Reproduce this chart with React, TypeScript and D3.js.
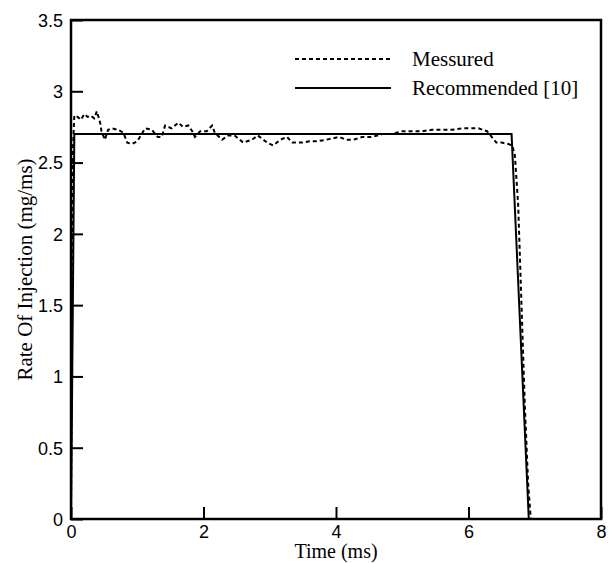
import { useEffect, useRef } from "react";
import * as d3 from "d3";

const measured: [number, number][] = [
  [0, 0], [0.01, 1.2], [0.03, 2.6], [0.05, 2.83], [0.1, 2.82], [0.15, 2.8],
  [0.2, 2.84], [0.25, 2.82], [0.3, 2.83], [0.35, 2.81], [0.39, 2.86], [0.44, 2.78],
  [0.46, 2.72], [0.51, 2.66], [0.56, 2.73], [0.62, 2.74], [0.71, 2.73], [0.79, 2.71],
  [0.85, 2.64], [0.92, 2.63], [1.0, 2.65], [1.04, 2.68], [1.12, 2.74], [1.22, 2.73],
  [1.31, 2.68], [1.37, 2.68], [1.42, 2.76], [1.52, 2.74], [1.62, 2.78], [1.69, 2.75],
  [1.77, 2.76], [1.83, 2.72], [1.87, 2.68], [1.95, 2.72], [2.05, 2.72], [2.13, 2.76],
  [2.17, 2.71], [2.28, 2.66], [2.37, 2.69], [2.47, 2.69], [2.6, 2.64], [2.73, 2.66],
  [2.82, 2.69], [2.96, 2.64], [3.05, 2.62], [3.16, 2.66], [3.26, 2.68], [3.34, 2.64],
  [3.41, 2.64], [3.49, 2.64], [3.6, 2.65], [3.72, 2.65], [3.85, 2.66], [3.95, 2.67],
  [4.05, 2.68], [4.15, 2.66], [4.26, 2.66], [4.4, 2.68], [4.55, 2.68], [4.7, 2.7],
  [4.85, 2.7], [5.0, 2.72], [5.15, 2.72], [5.3, 2.72], [5.45, 2.73], [5.6, 2.73],
  [5.75, 2.73], [5.9, 2.74], [6.05, 2.74], [6.15, 2.74], [6.28, 2.72], [6.35, 2.68],
  [6.42, 2.64], [6.5, 2.64], [6.6, 2.63], [6.66, 2.62], [6.7, 2.55], [6.75, 2.2],
  [6.8, 1.5], [6.85, 0.8], [6.9, 0.25], [6.94, 0],
];

// Recommended profile [10]
const recommended: [number, number][] = [
  [0, 0], [0.05, 2.7], [6.65, 2.7], [6.91, 0],
];

const xTicks = [0, 2, 4, 6, 8];
const yTicks = [0, 0.5, 1, 1.5, 2, 2.5, 3, 3.5];

const legendItems = [
  { label: "Messured", dash: "4,3" },
  { label: "Recommended [10]", dash: null },
];

function InjectionChart({ width = 609, height = 563 }) {
  const svgRef = useRef<SVGSVGElement | null>(null);

  useEffect(() => {
    const margin = { top: 20, right: 8, bottom: 44, left: 71 };
    const innerWidth = width - margin.left - margin.right;
    const innerHeight = height - margin.top - margin.bottom;

    const svg = d3.select(svgRef.current);
    svg.selectAll("*").remove();

    const g = svg
      .append("g")
      .attr("transform", `translate(${margin.left}, ${margin.top})`);

    const xScale = d3.scaleLinear().domain([0, 8]).range([0, innerWidth]);
    const yScale = d3.scaleLinear().domain([0, 3.5]).range([innerHeight, 0]);

    const sans = "'Liberation Sans', Arial, sans-serif";
    const serif = "'Liberation Serif', 'Times New Roman', serif";

    // Curves
    const line = d3
      .line<[number, number]>()
      .x(d => xScale(d[0]))
      .y(d => yScale(d[1]));

    g.append("path")
      .datum(recommended)
      .attr("d", line)
      .attr("fill", "none")
      .attr("stroke", "black")
      .attr("stroke-width", 2);

    g.append("path")
      .datum(measured)
      .attr("d", line)
      .attr("fill", "none")
      .attr("stroke", "black")
      .attr("stroke-width", 2)
      .attr("stroke-dasharray", "4,3");

    // Axes, ticks pointing inward
    const xAxis = d3.axisBottom(xScale).tickValues(xTicks).tickSizeInner(-12).tickSizeOuter(0).tickFormat(d3.format("d"));
    const yAxis = d3.axisLeft(yScale).tickValues(yTicks).tickSizeInner(-12).tickSizeOuter(0).tickFormat(d => String(d));

    const gx = g.append("g").attr("transform", `translate(0, ${innerHeight})`).call(xAxis);
    const gy = g.append("g").call(yAxis);
    [gx, gy].forEach(a => {
      a.select(".domain").remove();
      a.selectAll(".tick line").attr("stroke", "black").attr("stroke-width", 2);
      a.selectAll(".tick text")
        .attr("fill", "black")
        .style("font-family", sans)
        .style("font-size", "18px");
    });
    gx.selectAll(".tick text").attr("y", 6).attr("dy", "0.71em").attr("text-anchor", "middle");
    gy.selectAll(".tick text").attr("x", -8).attr("dy", "0.35em").attr("text-anchor", "end");

    // Frame
    g.append("rect")
      .attr("width", innerWidth)
      .attr("height", innerHeight)
      .attr("fill", "none")
      .attr("stroke", "black")
      .attr("stroke-width", 2.5);

    // Axis titles
    g.append("text")
      .attr("x", innerWidth / 2)
      .attr("y", innerHeight + 39)
      .attr("text-anchor", "middle")
      .style("font-family", serif)
      .style("font-size", "20px")
      .text("Time (ms)");

    g.append("text")
      .attr("transform", "rotate(-90)")
      .attr("x", -innerHeight / 2)
      .attr("y", -39)
      .attr("text-anchor", "middle")
      .style("font-family", serif)
      .style("font-size", "21px")
      .text("Rate Of Injection (mg/ms)");

    // Legend
    const legend = g.append("g").attr("transform", `translate(${295 - margin.left}, ${59 - margin.top})`);
    const items = legend
      .selectAll("g")
      .data(legendItems)
      .enter()
      .append("g")
      .attr("transform", (d, i) => `translate(0, ${i * 29})`);

    items
      .append("line")
      .attr("x1", 0)
      .attr("x2", 96)
      .attr("stroke", "black")
      .attr("stroke-width", 2)
      .attr("stroke-dasharray", d => d.dash);

    items
      .append("text")
      .attr("x", 117)
      .attr("y", 7)
      .style("font-family", serif)
      .style("font-size", "21px")
      .text(d => d.label);
  }, [width, height]);

  return (
    <svg
      ref={svgRef}
      width={width}
      height={height}
      style={{ position: "absolute", left: 0, top: 0, background: "white" }}
    />
  );
}

export default function App() {
  return <InjectionChart />;
}
